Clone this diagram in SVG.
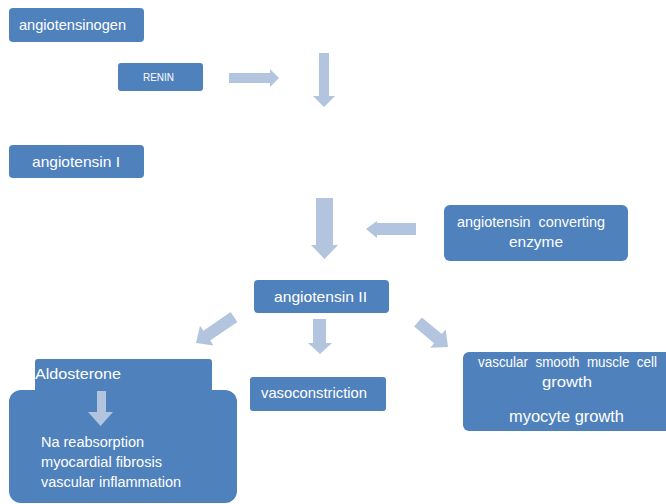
<svg xmlns="http://www.w3.org/2000/svg" width="666" height="504" viewBox="0 0 666 504">
<style>
.box{fill:#4F81BD}
.arr{fill:#B3C4DF}
text{font-family:"Liberation Sans","DejaVu Sans",sans-serif;fill:#FFFFFF}
.pre{white-space:pre}
</style>
<rect width="666" height="504" fill="#FFFFFF"/>
<g id="connectors">
<polygon class="arr" points="229,73 270,73 270,69 279,78 270,87 270,83 229,83"/>
<polygon class="arr" points="319,53 329,53 329,96 335,96 324,107 313,96 319,96"/>
<polygon class="arr" points="316,198 333,198 333,245 338,245 324.5,259 311,245 316,245"/>
<polygon class="arr" points="416,223 377,223 377,221 366,229 377,238 377,235 416,235"/>
<polygon class="arr" points="313,319 326,319 326,343 332,343 320,354 308,343 313,343"/>
<polygon class="arr" points="0,-6 33,-6 33,-12 46,0 33,12 33,6 0,6" transform="translate(234,317) rotate(145.6)"/>
<polygon class="arr" points="0,-6 26,-6 26,-12 39,0 26,12 26,6 0,6" transform="translate(418,322) rotate(39.8)"/>
</g>
<g id="angiotensinogen">
<rect class="box" x="9" y="8" width="135" height="34" rx="4"/>
<text x="19" y="30" font-size="15" textLength="107" lengthAdjust="spacingAndGlyphs">angiotensinogen</text>
</g>
<g id="renin">
<rect class="box" x="118" y="63" width="85" height="28" rx="3"/>
<text x="143" y="81" font-size="11" textLength="31" lengthAdjust="spacingAndGlyphs">RENIN</text>
</g>
<g id="angiotensin1">
<rect class="box" x="9" y="145" width="135" height="33" rx="4"/>
<text x="32" y="167" font-size="15" textLength="88" lengthAdjust="spacingAndGlyphs">angiotensin I</text>
</g>
<g id="ace">
<rect class="box" x="444" y="205" width="184" height="56" rx="6"/>
<text class="pre" x="457" y="227" font-size="14" textLength="148" lengthAdjust="spacingAndGlyphs">angiotensin  converting</text>
<text x="509" y="247" font-size="14" textLength="54" lengthAdjust="spacingAndGlyphs">enzyme</text>
</g>
<g id="angiotensin2">
<rect class="box" x="254" y="280" width="135" height="33" rx="4"/>
<text x="274" y="302" font-size="15" textLength="93" lengthAdjust="spacingAndGlyphs">angiotensin II</text>
</g>
<g id="aldosterone">
<rect class="box" x="35" y="359" width="177" height="40" rx="3"/>
<rect class="box" x="9" y="390" width="228" height="113" rx="12"/>
<text x="35" y="379" font-size="15" textLength="86" lengthAdjust="spacingAndGlyphs">Aldosterone</text>
<polygon class="arr" points="97,391 106,391 106,412 113,412 100.5,426 88,412 97,412"/>
<text x="41" y="447" font-size="14" textLength="103" lengthAdjust="spacingAndGlyphs">Na reabsorption</text>
<text x="41" y="467" font-size="14" textLength="121" lengthAdjust="spacingAndGlyphs">myocardial fibrosis</text>
<text x="41" y="487" font-size="14" textLength="140" lengthAdjust="spacingAndGlyphs">vascular inflammation</text>
</g>
<g id="vasoconstriction">
<rect class="box" x="250" y="377" width="136" height="34" rx="3"/>
<text x="261" y="398" font-size="15" textLength="106" lengthAdjust="spacingAndGlyphs">vasoconstriction</text>
</g>
<g id="growth">
<rect class="box" x="463" y="352" width="215" height="79" rx="6"/>
<text class="pre" x="478" y="367" font-size="14" textLength="179" lengthAdjust="spacingAndGlyphs">vascular  smooth  muscle  cell</text>
<text x="542" y="387" font-size="15" textLength="50" lengthAdjust="spacingAndGlyphs">growth</text>
<text x="509" y="422" font-size="16" textLength="115" lengthAdjust="spacingAndGlyphs">myocyte growth</text>
</g>
</svg>
